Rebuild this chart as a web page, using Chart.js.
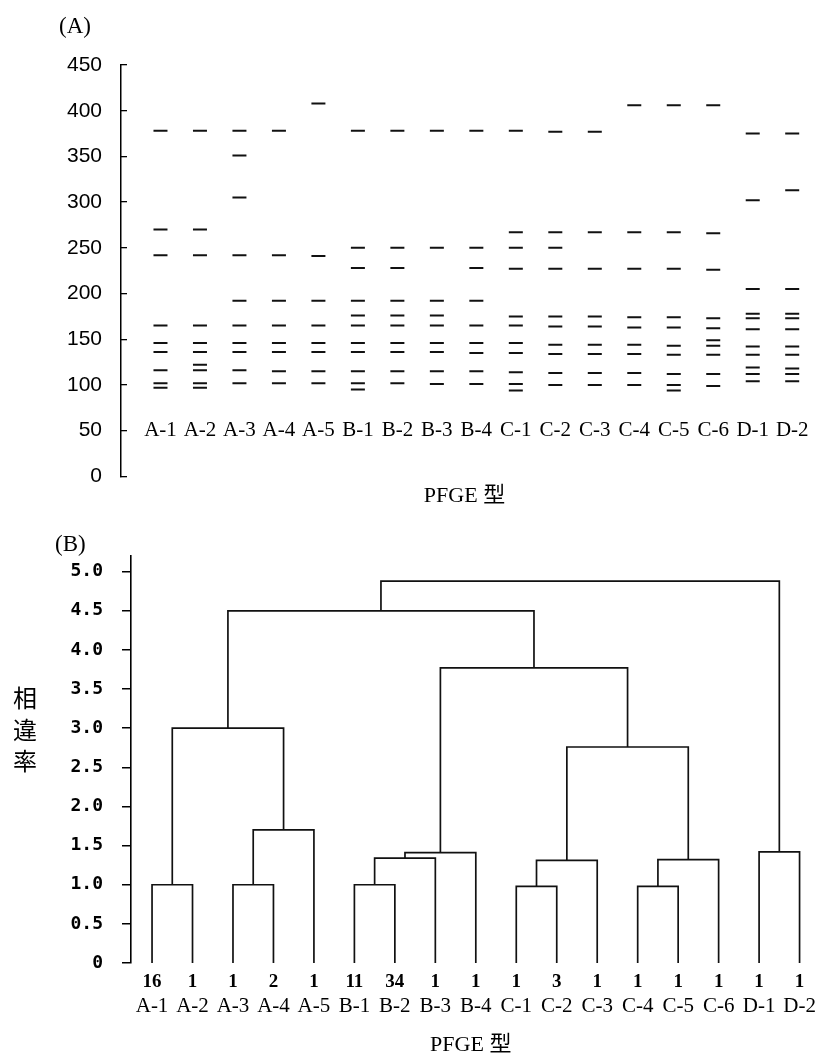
<!DOCTYPE html>
<html>
<head>
<meta charset="utf-8">
<script src="https://cdn.jsdelivr.net/npm/chart.js@4.4.1/dist/chart.umd.min.js"></script>
<style>
  body { margin: 0; background: #fff; }
  #wrap { position: relative; width: 817px; height: 1061px; background: #fff; }
  #chartA { position: absolute; left: 0; top: 0; width: 817px; height: 514px; }
  #chartB { position: absolute; left: 0; top: 520px; width: 817px; height: 541px; }
</style>
</head>
<body>
<div id="wrap">
  <canvas id="chartA" width="817" height="514"></canvas>
  <canvas id="chartB" width="817" height="541"></canvas>
</div>
<script>
// PFGE types (lanes / leaves)
const lanes = ['A-1', 'A-2', 'A-3', 'A-4', 'A-5', 'B-1', 'B-2', 'B-3', 'B-4',
  'C-1', 'C-2', 'C-3', 'C-4', 'C-5', 'C-6', 'D-1', 'D-2'];

// (A) band sizes per lane
const bandSizes = [
  [378, 270, 242, 165, 146, 136, 116, 102, 97],          // A-1
  [378, 270, 242, 165, 146, 136, 122, 116, 102, 97],     // A-2
  [378, 351, 305, 242, 192, 165, 146, 136, 116, 102],    // A-3
  [378, 242, 192, 165, 146, 136, 115, 102],              // A-4
  [408, 241, 192, 165, 146, 136, 115, 102],              // A-5
  [378, 250, 228, 192, 176, 165, 146, 136, 115, 102, 95],// B-1
  [378, 250, 228, 192, 176, 165, 146, 136, 115, 102],    // B-2
  [378, 250, 192, 176, 165, 146, 136, 115, 101],         // B-3
  [378, 250, 228, 192, 165, 146, 135, 115, 101],         // B-4
  [378, 267, 250, 227, 175, 165, 146, 135, 114, 101, 94],// C-1
  [377, 267, 250, 227, 175, 164, 144, 134, 113, 100],    // C-2
  [377, 267, 227, 175, 164, 144, 134, 113, 100],         // C-3
  [406, 267, 227, 174, 163, 144, 134, 113, 100],         // C-4
  [406, 267, 227, 174, 163, 143, 133, 112, 100, 94],     // C-5
  [406, 266, 226, 173, 162, 149, 143, 133, 112, 99],     // C-6
  [375, 302, 205, 178, 173, 161, 142, 133, 119, 112, 104], // D-1
  [375, 313, 205, 178, 173, 161, 142, 133, 118, 112, 104]  // D-2
];

// (B) number of isolates per type
const leafCounts = [16, 1, 1, 2, 1, 11, 34, 1, 1, 1, 3, 1, 1, 1, 1, 1, 1];

// (B) merges: [left node, right node, height]; leaves are 0-16, clusters numbered from 17
const merges = [
  [0, 1, 1.0],     // 17
  [2, 3, 1.0],     // 18
  [18, 4, 1.70],   // 19
  [17, 19, 3.0],   // 20
  [5, 6, 1.0],     // 21
  [21, 7, 1.34],   // 22
  [22, 8, 1.41],   // 23
  [9, 10, 0.98],   // 24
  [24, 11, 1.31],  // 25
  [12, 13, 0.98],  // 26
  [26, 14, 1.32],  // 27
  [25, 27, 2.76],  // 28
  [23, 28, 3.77],  // 29
  [20, 29, 4.5],   // 30
  [15, 16, 1.42],  // 31
  [30, 31, 4.88]   // 32
];

Chart.defaults.color = '#000';
Chart.defaults.animation = false;

const serif = '"Liberation Serif", "Noto Sans CJK JP", serif';

// free text (panel letters, vertical axis title)
const extraText = {
  id: 'extraText',
  afterDraw(chart, args, opts) {
    const ctx = chart.ctx;
    ctx.save();
    ctx.fillStyle = '#000';
    ctx.textBaseline = 'middle';
    (opts.items || []).forEach(it => {
      ctx.font = it.font;
      ctx.textAlign = it.align || 'left';
      ctx.fillText(it.text, it.x, it.y);
    });
    ctx.restore();
  }
};

const laneTicks = scale => {
  scale.ticks = lanes.map((_, i) => ({ value: i }));
};

// ---------- (A) band pattern ----------
const bandPoints = bandSizes.flatMap((sizes, i) => sizes.map(s => ({ x: i, y: s })));

new Chart(document.getElementById('chartA'), {
  type: 'scatter',
  plugins: [extraText],
  data: {
    datasets: [{
      data: bandPoints,
      pointStyle: 'line',
      pointRadius: 7,
      pointHoverRadius: 7,
      pointBorderWidth: 2,
      pointHoverBorderWidth: 2,
      pointBorderColor: '#111',
      pointBackgroundColor: '#111'
    }]
  },
  options: {
    responsive: false,
    events: [],
    layout: { padding: { top: 65, right: 2, left: 0, bottom: 0 } },
    plugins: {
      legend: { display: false },
      tooltip: { enabled: false },
      extraText: {
        items: [{ text: '(A)', x: 59, y: 27, font: '23px ' + serif }]
      }
    },
    scales: {
      x: {
        type: 'linear',
        min: -1,
        max: 16.4,
        position: { y: 50 },
        afterBuildTicks: laneTicks,
        ticks: {
          autoSkip: false,
          maxRotation: 0,
          padding: -13,
          font: { family: serif, size: 21 },
          callback: v => lanes[v]
        },
        grid: { display: false, drawTicks: false },
        border: { display: false }
      },
      x2: {
        type: 'linear',
        axis: 'x',
        min: -1,
        max: 16.4,
        position: 'bottom',
        afterFit: s => { s.height = 34; },
        ticks: { display: false },
        grid: { display: false, drawTicks: false },
        border: { display: false },
        title: {
          display: true,
          text: 'PFGE 型',
          font: { family: serif, size: 22 },
          padding: { top: 0, bottom: 1 }
        }
      },
      y: {
        min: 0,
        max: 450,
        position: 'left',
        afterFit: s => { s.width = 121; },
        ticks: {
          stepSize: 50,
          padding: 25,
          font: { family: '"Liberation Sans", Arial, sans-serif', size: 21 }
        },
        grid: { drawOnChartArea: false, tickLength: -6, color: '#000', lineWidth: 1.3 },
        border: { color: '#000', width: 1.5 }
      }
    }
  }
});

// ---------- (B) dendrogram ----------
const nodeX = lanes.map((_, i) => i);
const nodeH = lanes.map(() => 0);
const linkSets = merges.map(([a, b, h]) => {
  const xa = nodeX[a], xb = nodeX[b];
  const set = {
    data: [
      { x: xa, y: nodeH[a] },
      { x: xa, y: h },
      { x: xb, y: h },
      { x: xb, y: nodeH[b] }
    ],
    showLine: true,
    borderColor: '#111',
    borderWidth: 1.7,
    pointRadius: 0,
    pointHoverRadius: 0,
    tension: 0
  };
  nodeX.push((xa + xb) / 2);
  nodeH.push(h);
  return set;
});

new Chart(document.getElementById('chartB'), {
  type: 'scatter',
  plugins: [extraText],
  data: { datasets: linkSets },
  options: {
    responsive: false,
    events: [],
    layout: { padding: { top: 36, right: 6, left: 0, bottom: 0 } },
    plugins: {
      legend: { display: false },
      tooltip: { enabled: false },
      extraText: {
        items: [
          { text: '(B)', x: 55, y: 25, font: '23px ' + serif },
          { text: '相', x: 25, y: 178, font: '24px "Noto Sans CJK JP"', align: 'center' },
          { text: '違', x: 25, y: 210, font: '24px "Noto Sans CJK JP"', align: 'center' },
          { text: '率', x: 25, y: 241, font: '24px "Noto Sans CJK JP"', align: 'center' }
        ]
      }
    },
    scales: {
      x: {
        type: 'linear',
        min: -0.52,
        max: 16.27,
        position: 'bottom',
        weight: 0,
        afterBuildTicks: laneTicks,
        afterFit: s => { s.height = 30; },
        ticks: {
          autoSkip: false,
          maxRotation: 0,
          padding: 8,
          font: { family: serif, size: 19, weight: 'bold' },
          callback: v => leafCounts[v]
        },
        grid: { display: false, drawTicks: false },
        border: { display: false }
      },
      x2: {
        type: 'linear',
        axis: 'x',
        min: -0.52,
        max: 16.27,
        position: 'bottom',
        weight: 1,
        afterBuildTicks: laneTicks,
        afterFit: s => { s.height = 68; },
        ticks: {
          autoSkip: false,
          maxRotation: 0,
          padding: 1,
          font: { family: serif, size: 21 },
          callback: v => lanes[v]
        },
        grid: { display: false, drawTicks: false },
        border: { display: false },
        title: {
          display: true,
          text: 'PFGE 型',
          font: { family: serif, size: 22 },
          padding: { top: 0, bottom: 3 }
        }
      },
      y: {
        min: 0,
        max: 5.2,
        position: 'left',
        afterFit: s => { s.width = 131; },
        ticks: {
          stepSize: 0.5,
          includeBounds: false,
          padding: 19,
          font: { family: '"DejaVu Sans Mono", monospace', size: 18, weight: 'bold' },
          callback: v => (v === 0 ? '0' : v.toFixed(1))
        },
        grid: { drawOnChartArea: false, tickLength: 9, color: '#000', lineWidth: 1.5 },
        border: { color: '#000', width: 1.6 }
      }
    }
  }
});
</script>
</body>
</html>
